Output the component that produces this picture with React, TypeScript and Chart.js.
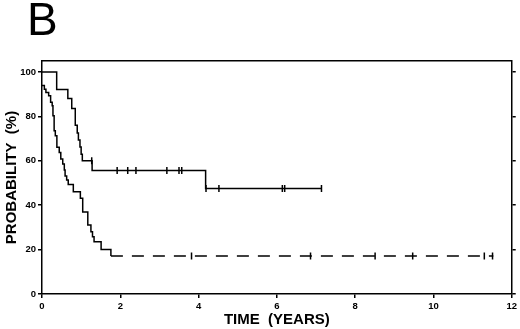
import React, { useEffect, useRef } from "react";
import { Chart, registerables } from "chart.js";

Chart.register(...registerables);

// Upper curve (solid): step times (years) and survival (%)
const upperTimes = [0, 0.375, 0.66, 0.76, 0.85, 0.9, 0.93, 0.97, 1.0, 1.03, 1.28, 4.18, 7.14];
const upperSurv = [100, 92.2, 88.1, 83.6, 76.1, 72.5, 69.4, 66.2, 63.0, 60.1, 55.6, 47.5, 47.5];
const upperCensorTimes = [1.27, 1.92, 2.19, 2.4, 3.19, 3.5, 3.57, 4.19, 4.52, 6.14, 6.2, 7.14];
const upperCensorSurv = [60.1, 55.6, 55.6, 55.6, 55.6, 55.6, 55.6, 47.5, 47.5, 47.5, 47.5, 47.5];

// Lower curve (solid, then dashed plateau)
const lowerTimes = [0, 0.06, 0.1, 0.17, 0.22, 0.26, 0.28, 0.31, 0.34, 0.38, 0.44, 0.48, 0.53, 0.57, 0.59, 0.63, 0.67, 0.8, 0.98, 1.04, 1.17, 1.25, 1.29, 1.33, 1.51, 1.76, 11.53];
const lowerSurv = [94, 92.3, 90.8, 89.3, 86.4, 84.8, 80.3, 73.6, 71.3, 66.1, 63.8, 60.8, 58.6, 55.9, 53.2, 51.4, 49.3, 46.1, 43.2, 36.9, 31.1, 28.1, 25.8, 23.6, 20.1, 17.1, 17.1];
const lowerCensorTimes = [3.82, 6.86, 8.51, 9.47, 11.3, 11.51];
const lowerCensorSurv = [17.1, 17.1, 17.1, 17.1, 17.1, 17.1];

const xTickValues = [0, 2, 4, 6, 8, 10, 12];
const yTickValues = [0, 20, 40, 60, 80, 100];
const panelLabel = "B";
const xTitle = "TIME  (YEARS)";
const yTitle = "PROBABILITY  (%)";

const FONT = "'Liberation Sans', Arial, Helvetica, sans-serif";

const toPts = (xs: number[], ys: number[]) => xs.map((x, i) => ({ x, y: ys[i] }));

export default function App() {
  const ref = useRef<HTMLCanvasElement | null>(null);

  useEffect(() => {
    if (!ref.current) return;
    Chart.defaults.color = "#000";
    Chart.defaults.font.family = FONT;

    const panelPlugin = {
      id: "panelLabel",
      afterDraw(chart: any) {
        const ctx = chart.ctx;
        ctx.save();
        ctx.fillStyle = "#000";
        ctx.font = `46px ${FONT}`;
        ctx.textAlign = "left";
        ctx.textBaseline = "alphabetic";
        ctx.fillText(panelLabel, 27, 35);
        ctx.restore();
      },
    };

    const censorStyle = {
      showLine: false,
      pointStyle: "line" as const,
      pointRotation: 90,
      pointRadius: 3.5,
      pointHoverRadius: 3.5,
      pointBorderWidth: 1.5,
      pointBorderColor: "#000",
      pointBackgroundColor: "#000",
      borderColor: "#000",
    };

    const filterY = (s: any) => {
      s.ticks = yTickValues.map((v) => ({ value: v }));
    };
    const filterX = (s: any) => {
      s.ticks = xTickValues.map((v) => ({ value: v }));
    };

    const chart = new Chart(ref.current, {
      type: "line",
      data: {
        datasets: [
          {
            data: toPts(upperTimes, upperSurv),
            borderColor: "#000",
            borderWidth: 1.5,
            pointRadius: 0,
            stepped: "before",
            fill: false,
          },
          {
            data: toPts(lowerTimes, lowerSurv),
            borderColor: "#000",
            borderWidth: 1.5,
            pointRadius: 0,
            stepped: "before",
            fill: false,
            segment: {
              borderDash: (c: any) => (c.p0.parsed.x >= 1.7 ? [12, 9] : undefined),
            },
          },
          { data: toPts(upperCensorTimes, upperCensorSurv), ...censorStyle },
          { data: toPts(lowerCensorTimes, lowerCensorSurv), ...censorStyle },
        ],
      },
      options: {
        responsive: false,
        animation: false,
        events: [],
        layout: { padding: { top: 61, left: 0, right: 0, bottom: 0 } },
        plugins: { legend: { display: false }, tooltip: { enabled: false } },
        scales: {
          x: {
            type: "linear",
            position: "bottom",
            min: 0,
            max: 12,
            afterBuildTicks: filterX,
            afterFit: (s: any) => {
              s.height = 35;
            },
            ticks: { font: { size: 9.5, weight: "bold" }, padding: 3, color: "#000", maxRotation: 0 },
            grid: { display: true, drawOnChartArea: false, drawTicks: true, tickLength: 4, color: "#000", lineWidth: 1.5 },
            border: { display: true, color: "#000", width: 1.5 },
            title: { display: true, text: xTitle, font: { size: 15, weight: "bold" }, padding: 0, color: "#000" },
          },
          x2: {
            type: "linear",
            position: "top",
            min: 0,
            max: 12,
            afterBuildTicks: filterX,
            afterFit: (s: any) => {
              s.height = 0;
            },
            ticks: { display: false },
            grid: { display: true, drawOnChartArea: false, drawTicks: false },
            border: { display: true, color: "#000", width: 1.5 },
          },
          y: {
            type: "linear",
            position: "left",
            min: 0,
            max: 105,
            afterBuildTicks: filterY,
            afterFit: (s: any) => {
              s.width = 42;
            },
            ticks: { font: { size: 9.5, weight: "bold" }, padding: 2, color: "#000" },
            grid: { display: true, drawOnChartArea: false, drawTicks: true, tickLength: 4, color: "#000", lineWidth: 1.5 },
            border: { display: true, color: "#000", width: 1.5 },
            title: { display: true, text: yTitle, font: { size: 15, weight: "bold" }, padding: { top: 3, bottom: 0 }, color: "#000" },
          },
          y2: {
            type: "linear",
            position: "right",
            min: 0,
            max: 105,
            afterBuildTicks: filterY,
            afterFit: (s: any) => {
              s.width = 8;
            },
            ticks: { display: false },
            grid: { display: true, drawOnChartArea: false, drawTicks: true, tickLength: 4, color: "#000", lineWidth: 1.5 },
            border: { display: true, color: "#000", width: 1.5 },
          },
        },
      } as any,
      plugins: [panelPlugin],
    });

    return () => chart.destroy();
  }, []);

  return (
    <div style={{ position: "fixed", left: 0, top: 0, width: 520, height: 329, background: "#fff" }}>
      <canvas ref={ref} width={520} height={329} style={{ display: "block", width: 520, height: 329 }} />
    </div>
  );
}
